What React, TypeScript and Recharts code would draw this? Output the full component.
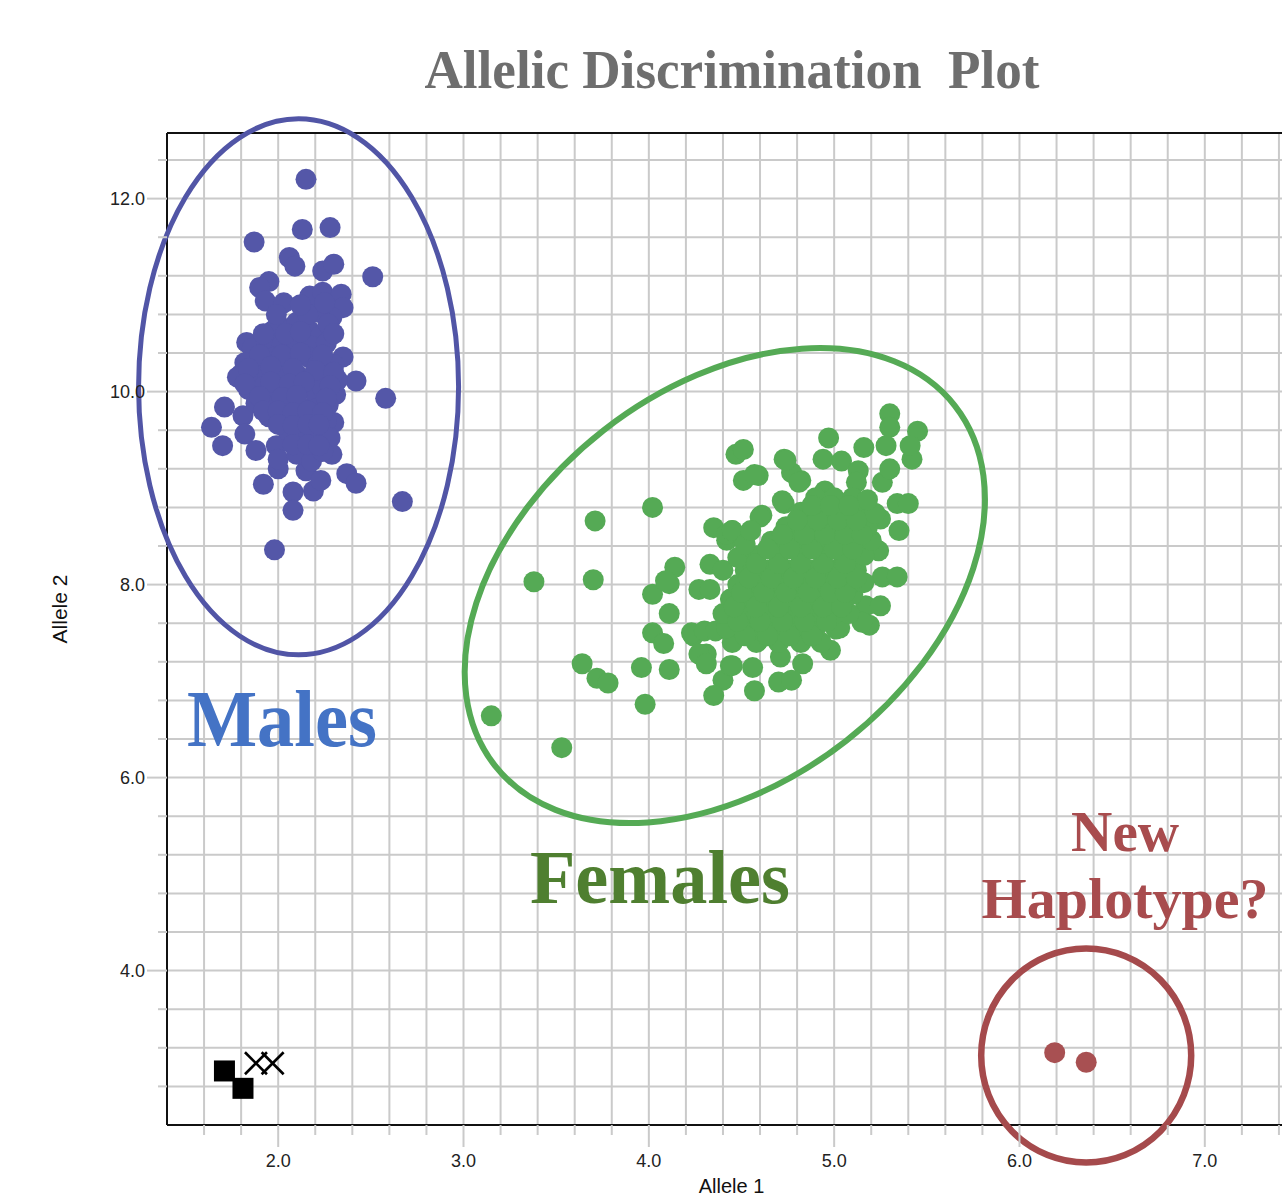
import {
  ScatterChart,
  Scatter,
  XAxis,
  YAxis,
  CartesianGrid,
  ReferenceLine,
  ReferenceDot,
} from 'recharts'

const X_MIN = 1.4
const X_MAX = 7.6
const Y_MIN = 2.4
const Y_MAX = 12.68

const X_TICKS = [1.6, 1.8, 2.0, 2.2, 2.4, 2.6, 2.8, 3.0, 3.2, 3.4, 3.6, 3.8, 4.0, 4.2, 4.4, 4.6, 4.8, 5.0, 5.2, 5.4, 5.6, 5.8, 6.0, 6.2, 6.4, 6.6, 6.8, 7.0, 7.2, 7.4]
const X_LABELS = [2, 3, 4, 5, 6, 7]
const Y_TICKS = [2.8, 3.2, 3.6, 4.0, 4.4, 4.8, 5.2, 5.6, 6.0, 6.4, 6.8, 7.2, 7.6, 8.0, 8.4, 8.8, 9.2, 9.6, 10.0, 10.4, 10.8, 11.2, 11.6, 12.0, 12.4]
const Y_LABELS = [4, 6, 8, 10, 12]

// allele 1 / allele 2 signal per sample
const MALES: [number, number][] = [
  [2.15, 12.2], [2.13, 11.68], [2.28, 11.7], [1.87, 11.55], [2.06, 11.39], [2.09, 11.3],
  [2.24, 11.25], [2.3, 11.32], [2.51, 11.19], [1.95, 11.14], [1.9, 11.08], [1.93, 10.94],
  [2.03, 10.92], [2.17, 10.99], [2.24, 11.03], [2.34, 11.01], [2.35, 10.87], [2.29, 10.77],
  [2.22, 10.82], [1.97, 10.63], [1.83, 10.51], [2.17, 10.63], [2.23, 10.58], [2.35, 10.36],
  [2.42, 10.11], [2.58, 9.93], [1.8, 10.18], [1.71, 9.84], [1.64, 9.63], [1.7, 9.44],
  [1.81, 9.75], [1.82, 9.56], [1.88, 9.39], [1.99, 9.44], [2.0, 9.2], [1.92, 9.04],
  [2.08, 8.96], [2.08, 8.77], [2.19, 8.97], [2.15, 9.18], [2.23, 9.08], [2.37, 9.15],
  [2.42, 9.05], [2.67, 8.86], [1.98, 8.36], [2.29, 9.35], [2.3, 9.68], [2.2, 9.49], [2.13, 9.56],
  [1.86, 10.45], [1.94, 10.5], [2.02, 10.48], [2.1, 10.52], [2.18, 10.47], [2.26, 10.5],
  [1.82, 10.3], [1.9, 10.33], [1.98, 10.36], [2.04, 10.28], [2.16, 10.36], [2.22, 10.3], [2.3, 10.28],
  [1.78, 10.15], [1.86, 10.18], [1.94, 10.2], [2.02, 10.15], [2.1, 10.18], [2.18, 10.14],
  [2.26, 10.17], [2.32, 10.12], [1.84, 10.02], [1.92, 10.05], [2.0, 10.0], [2.08, 10.04],
  [2.2, 9.98], [2.24, 10.04], [2.31, 9.97], [1.88, 9.88], [1.96, 9.9], [2.04, 9.85],
  [2.12, 9.84], [2.2, 9.82], [2.27, 9.86], [1.95, 9.74], [2.03, 9.72], [2.11, 9.7],
  [2.19, 9.73], [2.26, 9.7], [2.05, 9.6], [2.14, 9.58], [2.22, 9.6], [2.28, 9.52],
  [2.0, 10.7], [2.1, 10.72], [2.16, 10.8], [2.27, 10.7], [2.25, 10.92], [2.12, 10.9],
  [1.99, 10.8], [2.0, 9.3], [2.1, 9.35], [2.18, 9.28], [2.24, 9.38],
  [1.9, 10.38], [2.02, 10.38], [2.12, 10.4], [2.24, 10.38], [1.84, 10.24], [1.96, 10.26],
  [2.08, 10.24], [2.2, 10.22], [2.3, 10.2], [1.82, 10.08], [1.96, 10.1], [2.06, 10.08],
  [2.14, 10.1], [2.28, 10.06], [1.9, 9.95], [2.02, 9.94], [2.1, 9.96], [2.26, 9.93],
  [1.92, 9.8], [2.0, 9.8], [2.08, 9.78], [2.16, 9.8], [2.24, 9.78], [2.0, 9.66],
  [2.08, 9.65], [2.16, 9.66], [2.22, 9.66], [1.92, 10.6], [2.04, 10.6], [2.12, 10.62],
  [2.3, 10.6], [2.08, 9.45], [2.16, 9.45], [2.22, 9.44],
]

const FEMALES: [number, number][] = [
  [3.15, 6.64], [3.38, 8.03], [3.71, 8.66], [3.7, 8.05], [4.02, 8.8], [3.64, 7.18],
  [3.72, 7.03], [3.78, 6.98], [3.96, 7.14], [3.98, 6.76], [3.53, 6.31], [4.11, 7.12],
  [4.02, 7.5], [4.08, 7.39], [4.11, 7.7], [4.02, 7.9], [4.11, 8.01], [4.14, 8.18],
  [4.27, 7.95], [4.33, 7.95], [4.33, 8.21], [4.24, 7.47], [4.31, 7.28], [4.4, 7.01],
  [4.35, 6.85], [4.44, 7.16], [4.56, 7.14], [4.57, 6.9], [4.61, 8.72], [4.35, 8.59],
  [4.42, 8.46], [4.09, 8.04], [4.23, 7.5], [4.3, 7.52], [4.36, 7.52], [4.27, 7.28],
  [4.31, 7.18], [4.45, 7.16], [4.45, 7.49], [4.59, 7.42], [4.42, 8.52], [4.45, 8.56],
  [5.3, 9.77], [5.3, 9.63], [5.45, 9.59], [5.16, 9.42], [4.97, 9.52], [5.28, 9.44],
  [5.42, 9.3], [5.41, 9.44], [4.94, 9.3], [5.04, 9.28], [5.13, 9.18], [4.73, 9.3],
  [4.82, 9.08], [4.77, 9.16], [4.95, 8.97], [5.12, 9.06], [5.26, 9.06], [5.3, 9.2],
  [5.34, 8.84], [5.4, 8.84], [4.73, 8.84], [5.25, 8.68], [5.35, 8.56], [5.24, 8.35],
  [5.26, 8.08], [5.34, 8.08], [5.17, 7.78], [5.25, 7.78], [5.19, 7.58], [4.98, 7.32],
  [4.83, 7.18], [4.71, 7.25], [4.7, 6.99], [4.77, 7.01], [5.01, 7.54], [5.15, 7.61],
  [4.59, 9.13], [4.47, 9.35], [4.51, 9.4], [4.74, 9.29], [4.81, 9.06], [4.51, 9.08],
  [4.57, 9.14], [4.72, 8.87], [4.6, 8.7], [4.45, 8.56],
  [4.45, 7.4], [4.58, 7.4], [4.7, 7.4], [4.82, 7.4], [4.93, 7.4],
  [4.42, 7.55], [4.54, 7.55], [4.66, 7.55], [4.78, 7.55], [4.9, 7.55], [5.03, 7.55],
  [4.4, 7.7], [4.52, 7.7], [4.64, 7.7], [4.76, 7.7], [4.88, 7.7], [5.0, 7.7], [5.08, 7.7],
  [4.44, 7.85], [4.56, 7.85], [4.68, 7.85], [4.8, 7.85], [4.92, 7.85], [5.04, 7.85], [5.1, 7.9],
  [4.48, 8.0], [4.6, 8.0], [4.72, 8.0], [4.84, 8.0], [4.96, 8.0], [5.08, 8.0], [5.16, 8.02],
  [4.4, 8.15], [4.52, 8.15], [4.64, 8.15], [4.76, 8.15], [4.88, 8.15], [5.0, 8.15], [5.12, 8.15],
  [4.48, 8.28], [4.58, 8.3], [4.7, 8.3], [4.82, 8.3], [4.94, 8.3], [5.05, 8.3], [5.16, 8.3],
  [4.52, 8.42], [4.66, 8.45], [4.78, 8.45], [4.9, 8.45], [5.01, 8.45], [5.12, 8.45], [5.2, 8.46],
  [4.55, 8.56], [4.74, 8.6], [4.86, 8.6], [4.97, 8.6], [5.08, 8.6], [5.18, 8.6],
  [4.82, 8.75], [4.93, 8.75], [5.04, 8.75], [5.14, 8.75], [5.22, 8.74],
  [4.9, 8.9], [5.0, 8.9], [5.1, 8.9], [5.18, 8.88],
  [4.52, 7.47], [4.64, 7.47], [4.76, 7.47], [4.88, 7.47],
  [4.48, 7.62], [4.6, 7.62], [4.72, 7.62], [4.84, 7.62], [4.96, 7.62],
  [4.46, 7.77], [4.58, 7.77], [4.7, 7.77], [4.82, 7.77], [4.94, 7.77], [5.04, 7.77],
  [4.5, 7.92], [4.62, 7.92], [4.74, 7.92], [4.86, 7.92], [4.98, 7.92], [5.06, 7.92],
  [4.54, 8.07], [4.66, 8.07], [4.78, 8.07], [4.9, 8.07], [5.02, 8.07], [5.12, 8.07],
  [4.58, 8.22], [4.7, 8.22], [4.82, 8.22], [4.94, 8.22], [5.06, 8.22],
  [4.64, 8.37], [4.76, 8.37], [4.88, 8.37], [5.0, 8.37], [5.1, 8.37],
  [4.72, 8.52], [4.84, 8.52], [4.95, 8.52], [5.06, 8.52], [5.15, 8.52],
  [4.8, 8.67], [4.91, 8.67], [5.02, 8.67], [5.12, 8.67],
  [4.88, 8.82], [4.98, 8.82], [5.08, 8.82],
]

const NEW_HAPLOTYPE: [number, number][] = [[6.19, 3.15], [6.36, 3.05]]
const NO_TEMPLATE: [number, number][] = [[1.71, 2.96], [1.81, 2.78]]
const UNDETERMINED: [number, number][] = [[1.88, 3.04], [1.97, 3.04]]

// ring centres (allele 1, allele 2)
const MALE_RING: [number, number][] = [[2.11, 10.05]]
const FEMALE_RING: [number, number][] = [[4.41, 7.99]]
const NEW_RING: [number, number][] = [[6.36, 3.12]]

const toPts = (arr: [number, number][]) => arr.map(([x, y]) => ({ x, y }))

const BLUE = '#5457A8'
const GREEN = '#55AA55'
const RED = '#A85052'
const GRID = '#CACACA'
const TICK_FONT = "'Liberation Sans', Arial, sans-serif"
const SERIF = "'Liberation Serif', 'Times New Roman', serif"

const isMajor = (v: number, labels: number[]) => labels.some(l => Math.abs(l - v) < 1e-6)

function YTick({ x, y, payload }: any) {
  const major = isMajor(payload.value, Y_LABELS)
  const len = major ? 20 : 9
  return (
    <g>
      <line x1={x - len} x2={x} y1={y} y2={y} stroke={GRID} strokeWidth={2} />
      {major && (
        <text x={x - len - 2} y={y} dy={6} textAnchor="end" fill="#222" fontSize={18} fontFamily={TICK_FONT}>
          {payload.value.toFixed(1)}
        </text>
      )}
    </g>
  )
}

function XTick({ x, y, payload }: any) {
  const major = isMajor(payload.value, X_LABELS)
  const len = major ? 22 : 10
  return (
    <g>
      <line x1={x} x2={x} y1={y} y2={y + len} stroke={GRID} strokeWidth={2} />
      {major && (
        <text x={x} y={y + 42} textAnchor="middle" fill="#222" fontSize={18} fontFamily={TICK_FONT}>
          {payload.value.toFixed(1)}
        </text>
      )}
    </g>
  )
}

const dot = (color: string) => (p: any) => <circle cx={p.cx} cy={p.cy} r={10.5} fill={color} />

const square = (p: any) => <rect x={p.cx - 10.5} y={p.cy - 10.5} width={21} height={21} fill="#000" />

const cross = (p: any) => (
  <g stroke="#000" strokeWidth={2.6}>
    <line x1={p.cx - 11} y1={p.cy - 11} x2={p.cx + 11} y2={p.cy + 11} />
    <line x1={p.cx - 11} y1={p.cy + 11} x2={p.cx + 11} y2={p.cy - 11} />
  </g>
)

const ring = (rx: number, ry: number, angle: number, color: string, width: number) => (p: any) => (
  <ellipse
    cx={p.cx}
    cy={p.cy}
    rx={rx}
    ry={ry}
    fill="none"
    stroke={color}
    strokeWidth={width}
    transform={`rotate(${angle} ${p.cx} ${p.cy})`}
  />
)

const caption = (text: string, color: string, size: number, length: number) => (p: any) => (
  <text
    x={p.cx}
    y={p.cy}
    textAnchor="middle"
    fill={color}
    fontSize={size}
    fontWeight="bold"
    fontFamily={SERIF}
    textLength={length}
    lengthAdjust="spacingAndGlyphs"
  >
    {text}
  </text>
)

export default function App() {
  return (
    <div
      style={{
        position: 'absolute',
        left: 0,
        top: 0,
        width: 1282,
        height: 1197,
        overflow: 'hidden',
        background: '#fff',
      }}
    >
      <svg width={1282} height={110} style={{ position: 'absolute', left: 0, top: 0 }}>
        <text
          x={732}
          y={88}
          textAnchor="middle"
          fill="#6E6E6E"
          fontSize={54}
          fontWeight="bold"
          fontFamily={SERIF}
          textLength={615}
          lengthAdjust="spacingAndGlyphs"
          style={{ whiteSpace: 'pre' }}
        >
          {'Allelic Discrimination  Plot'}
        </text>
      </svg>
      <ScatterChart
        width={1330}
        height={1197}
        margin={{ top: 133, right: 14, bottom: 32, left: 107 }}
        style={{ position: 'absolute', left: 0, top: 0 }}
      >
        <CartesianGrid stroke={GRID} strokeWidth={2} />
        <XAxis
          type="number"
          dataKey="x"
          domain={[X_MIN, X_MAX]}
          ticks={X_TICKS}
          interval={0}
          height={40}
          tickSize={0}
          tickMargin={0}
          tick={<XTick />}
          axisLine={{ stroke: '#111', strokeWidth: 2 }}
          label={{
            content: ({ viewBox }: any) => (
              <text
                x={viewBox.x + viewBox.width / 2 - 10}
                y={viewBox.y + viewBox.height + 28}
                textAnchor="middle"
                fill="#111"
                fontSize={20}
                fontFamily={TICK_FONT}
              >
                Allele 1
              </text>
            ),
          }}
        />
        <YAxis
          type="number"
          dataKey="y"
          domain={[Y_MIN, Y_MAX]}
          ticks={Y_TICKS}
          interval={0}
          width={60}
          tickSize={0}
          tickMargin={0}
          tick={<YTick />}
          axisLine={{ stroke: '#111', strokeWidth: 2 }}
          label={{
            content: ({ viewBox }: any) => {
              const cx = viewBox.x - 47
              const cy = viewBox.y + viewBox.height / 2 - 20
              return (
                <text
                  x={cx}
                  y={cy}
                  dy={7}
                  textAnchor="middle"
                  fill="#111"
                  fontSize={21}
                  fontFamily={TICK_FONT}
                  transform={`rotate(-90 ${cx} ${cy})`}
                >
                  Allele 2
                </text>
              )
            },
          }}
        />
        <ReferenceLine y={Y_MAX} stroke="#111" strokeWidth={2} />

        <Scatter data={toPts(MALE_RING)} shape={ring(160, 268, 0, '#5155A6', 5)} isAnimationActive={false} />
        <Scatter data={toPts(FEMALE_RING)} shape={ring(292, 197, -38, GREEN, 6)} isAnimationActive={false} />
        <Scatter data={toPts(NEW_RING)} shape={ring(105, 107, 0, '#A54A4C', 6.5)} isAnimationActive={false} />

        <Scatter name="Males" data={toPts(MALES)} shape={dot(BLUE)} isAnimationActive={false} />
        <Scatter name="Females" data={toPts(FEMALES)} shape={dot(GREEN)} isAnimationActive={false} />
        <Scatter name="New haplotype" data={toPts(NEW_HAPLOTYPE)} shape={dot(RED)} isAnimationActive={false} />
        <Scatter name="NTC" data={toPts(NO_TEMPLATE)} shape={square} isAnimationActive={false} />
        <Scatter name="Undetermined" data={toPts(UNDETERMINED)} shape={cross} isAnimationActive={false} />

        <ReferenceDot x={2.02} y={6.33} r={0} shape={caption('Males', '#4473C5', 80, 190)} />
        <ReferenceDot x={4.06} y={4.7} r={0} shape={caption('Females', '#4F7F30', 76, 260)} />
        <ReferenceDot x={6.57} y={5.24} r={0} shape={caption('New', '#A84C4E', 56, 108)} />
        <ReferenceDot x={6.57} y={4.54} r={0} shape={caption('Haplotype?', '#A84C4E', 56, 287)} />
      </ScatterChart>
    </div>
  )
}
